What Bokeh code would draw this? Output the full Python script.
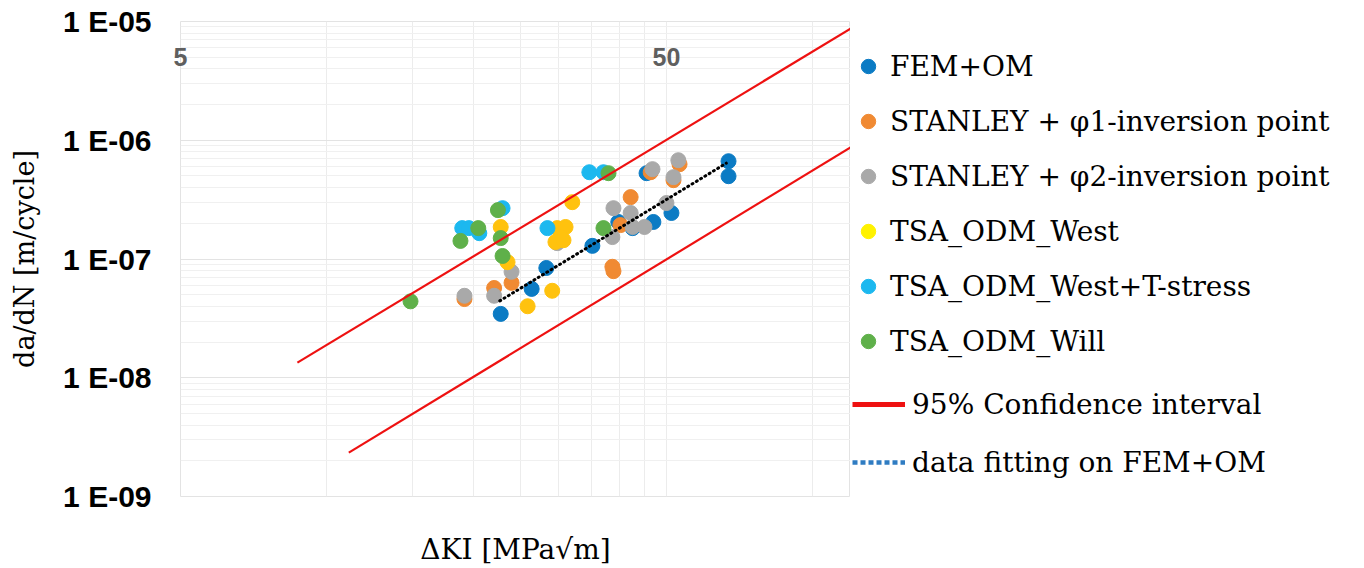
from bokeh.plotting import figure
from bokeh.layouts import row
from bokeh.models import FixedTicker, Legend, LegendItem, LogAxis, Range1d
from bokeh.embed import file_html
from bokeh.resources import INLINE

# Stress intensity range ΔKI [MPa√m] and crack growth rate da/dN [m/cycle]
fem_dk = [22.8, 26.4, 28.3, 35.2, 39.8, 42.6, 47.0, 51.2, 45.5, 67.1, 67.1]
fem_dadn = [3.45e-8, 5.6e-8, 8.4e-8, 1.29e-7, 2.05e-7, 1.82e-7, 2.05e-7, 2.44e-7, 5.28e-7, 6.66e-7, 4.98e-7]

phi1_dk = [19.2, 22.1, 24.0, 38.7, 38.9, 42.2, 40.2, 46.4, 51.7, 53.2]
phi1_dadn = [4.6e-8, 5.7e-8, 6.3e-8, 8.6e-8, 7.9e-8, 3.32e-7, 1.93e-7, 5.38e-7, 4.61e-7, 6.28e-7]

phi2_dk = [19.2, 22.1, 24.0, 29.8, 38.9, 38.7, 42.2, 42.6, 45.05, 50.0, 46.8, 51.7, 52.9]
phi2_dadn = [4.9e-8, 4.9e-8, 7.8e-8, 1.36e-7, 2.68e-7, 1.53e-7, 2.44e-7, 1.86e-7, 1.86e-7, 2.96e-7, 5.71e-7, 4.89e-7, 6.79e-7]

west_dk = [22.8, 23.55, 25.9, 29.1, 29.8, 31.0, 30.3, 29.55, 30.7, 32.0]
west_dadn = [1.86e-7, 9.4e-8, 4.0e-8, 5.4e-8, 1.82e-7, 1.86e-7, 1.53e-7, 1.39e-7, 1.44e-7, 3.01e-7]

westt_dk = [19.0, 19.6, 20.6, 23.0, 28.45, 34.7, 37.1]
westt_dadn = [1.82e-7, 1.82e-7, 1.65e-7, 2.68e-7, 1.82e-7, 5.38e-7, 5.38e-7]

will_dk = [14.87, 18.84, 20.5, 22.5, 22.8, 23.0, 37.1, 38.0]
will_dadn = [4.4e-8, 1.42e-7, 1.82e-7, 2.58e-7, 1.50e-7, 1.06e-7, 1.82e-7, 5.28e-7]

# 95% confidence band and power-law fit on FEM+OM
ci_upper_dk = [8.7, 119.6]
ci_upper_dadn = [1.34e-8, 8.7e-6]
ci_lower_dk = [11.1, 119.6]
ci_lower_dadn = [2.34e-9, 8.7e-7]
fit_dk = [22.7, 66.4]
fit_dadn = [4.44e-8, 6.41e-7]

# Axis ticks
y_ticks = [1e-9, 1e-8, 1e-7, 1e-6, 1e-5]
y_tick_labels = ["1 E-09", "1 E-08", "1 E-07", "1 E-06", "1 E-05"]
x_tick_values = [5, 50]
x_tick_labels = ["5", "50"]
x_grid_values = [5, 10, 15, 20, 25, 30, 35, 40, 45, 50, 100]

SERIF = "DejaVu Serif"
COLORS = {
    "fem": "#0b7bc4", "phi1": "#f08a33", "phi2": "#a9a9a9",
    "west": "#ffc20e", "westt": "#1cb8ef", "will": "#5fb04a",
}

p = figure(width=850, height=568, x_axis_type="log", y_axis_type="log",
           x_range=(5, 119.6), y_range=(1e-9, 1e-5),
           min_border_left=180, min_border_right=0,
           min_border_top=21, min_border_bottom=71,
           toolbar_location=None, output_backend="svg")
p.outline_line_color = "#e3e3e3"
p.background_fill_color = "white"

# y axis: decades with minor log grid
minor = [k * d for d in y_ticks[:-1] for k in range(2, 10)]
p.yaxis.ticker = FixedTicker(ticks=y_ticks, minor_ticks=minor)
p.yaxis.major_label_overrides = dict(zip(y_ticks, y_tick_labels))
p.yaxis.major_label_text_font = "Liberation Sans"
p.yaxis.major_label_text_font_style = "bold"
p.yaxis.major_label_text_font_size = "30px"
p.yaxis.major_label_text_color = "black"
p.yaxis.major_label_standoff = 23
p.yaxis.axis_line_color = None
p.yaxis.major_tick_line_color = None
p.yaxis.minor_tick_line_color = None
p.yaxis.axis_label = "da/dN [m/cycle]"
p.yaxis.axis_label_text_font = SERIF
p.yaxis.axis_label_text_font_style = "normal"
p.yaxis.axis_label_text_font_size = "27px"
p.yaxis.axis_label_text_color = "black"
p.yaxis.axis_label_standoff = 20
p.ygrid.grid_line_color = "#e3e3e3"
p.ygrid.minor_grid_line_color = "#f0f0f0"

# x axis below: title only
p.xaxis.ticker = FixedTicker(ticks=[])
p.xaxis.axis_line_color = None
p.xaxis.major_tick_line_color = None
p.xaxis.minor_tick_line_color = None
p.xaxis.axis_label = "ΔKI [MPa√m]"
p.xaxis.axis_label_text_font = SERIF
p.xaxis.axis_label_text_font_style = "normal"
p.xaxis.axis_label_text_font_size = "28px"
p.xaxis.axis_label_text_color = "black"
p.xaxis.axis_label_standoff = 36
p.xgrid.ticker = FixedTicker(ticks=x_grid_values)
p.xgrid.grid_line_color = "#ececec"

# x tick labels sit just inside the top edge of the plot area
top_axis = LogAxis(ticker=FixedTicker(ticks=x_tick_values),
                   major_label_overrides=dict(zip(x_tick_values, x_tick_labels)),
                   major_label_standoff=-44,
                   major_label_text_font="Liberation Sans",
                   major_label_text_font_style="bold",
                   major_label_text_font_size="25px",
                   major_label_text_color="#5f5f5f",
                   axis_line_color=None, major_tick_line_color=None,
                   minor_tick_line_color=None, major_tick_out=0)
p.add_layout(top_axis, "above")

SIZE = 15
p.scatter(fem_dk, fem_dadn, size=SIZE, color=COLORS["fem"])
p.scatter(phi1_dk, phi1_dadn, size=SIZE, color=COLORS["phi1"])
p.scatter(phi2_dk, phi2_dadn, size=SIZE, color=COLORS["phi2"])
p.scatter(west_dk, west_dadn, size=SIZE, color=COLORS["west"])
p.scatter(westt_dk, westt_dadn, size=SIZE, color=COLORS["westt"])
p.scatter(will_dk, will_dadn, size=SIZE, color=COLORS["will"])

p.line(ci_upper_dk, ci_upper_dadn, line_color="#ee1111", line_width=2.2)
p.line(ci_lower_dk, ci_lower_dadn, line_color="#ee1111", line_width=2.2)
p.line(fit_dk, fit_dadn, line_color="black", line_width=3,
       line_dash="1 4", line_cap="round")

# key panel to the right of the plot; its glyphs sit outside its visible range
key = figure(width=514, height=568, x_range=Range1d(0, 1), y_range=Range1d(0, 1),
             min_border=0, toolbar_location=None, output_backend="svg",
             x_axis_location=None, y_axis_location=None)
key.outline_line_color = None
key.grid.visible = False

off = [-5, -4]
k_fem = key.scatter(off, off, size=SIZE, color=COLORS["fem"])
k_phi1 = key.scatter(off, off, size=SIZE, color=COLORS["phi1"])
k_phi2 = key.scatter(off, off, size=SIZE, color=COLORS["phi2"])
k_west = key.scatter(off, off, size=SIZE, color="#fff200")
k_westt = key.scatter(off, off, size=SIZE, color=COLORS["westt"])
k_will = key.scatter(off, off, size=SIZE, color=COLORS["will"])
k_ci = key.line(off, off, line_color="#ee1111", line_width=5)
k_fit = key.line(off, off, line_color="#2f7cc2", line_width=4.5, line_dash="5 3")

common = dict(padding=0, margin=0, border_line_color=None,
              background_fill_alpha=0, label_text_font=SERIF,
              label_text_font_size="28px", label_text_color="black",
              glyph_height=36)

leg_markers = Legend(items=[
    LegendItem(label="FEM+OM", renderers=[k_fem]),
    LegendItem(label="STANLEY + φ1-inversion point", renderers=[k_phi1]),
    LegendItem(label="STANLEY + φ2-inversion point", renderers=[k_phi2]),
    LegendItem(label="TSA_ODM_West", renderers=[k_west]),
    LegendItem(label="TSA_ODM_West+T-stress", renderers=[k_westt]),
    LegendItem(label="TSA_ODM_Will", renderers=[k_will]),
], location=(0, 137), glyph_width=36, label_standoff=4, spacing=19, **common)

leg_lines = Legend(items=[
    LegendItem(label="95% Confidence interval", renderers=[k_ci]),
    LegendItem(label="data fitting on FEM+OM", renderers=[k_fit]),
], location=(2, 16), glyph_width=53, label_standoff=7, spacing=22, **common)

key.add_layout(leg_markers)
key.add_layout(leg_lines)

open("out.html", "w").write(file_html(row(p, key), INLINE))
